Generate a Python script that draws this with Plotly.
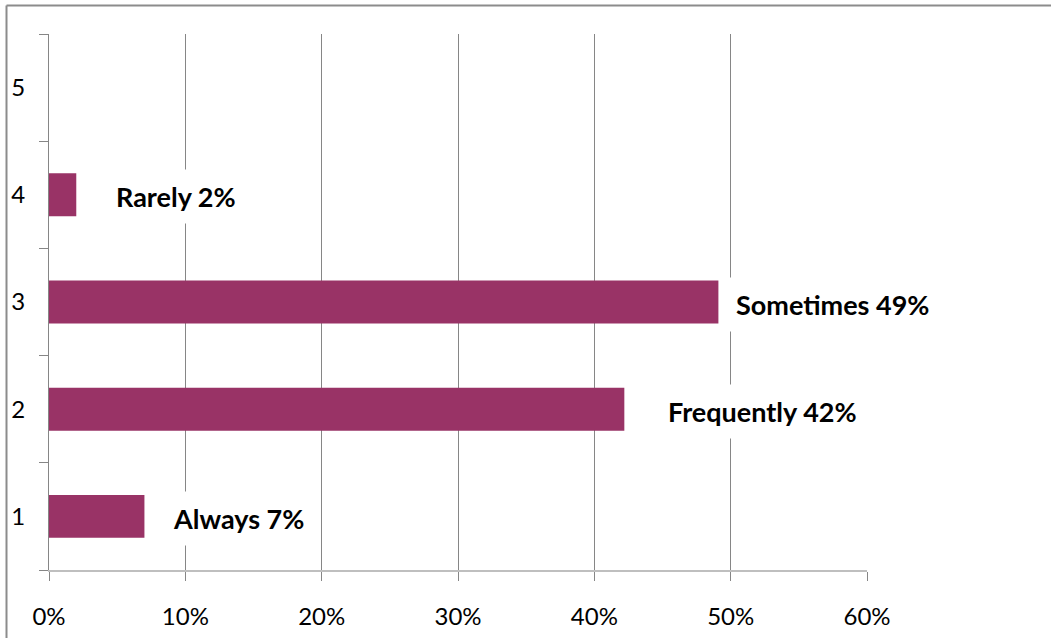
import plotly.graph_objects as go

# ---- data ----
categories = ["1", "2", "3", "4", "5"]
values = [7.0, 42.2, 49.1, 2.0, 0.0]
label_names = ["Always", "Frequently", "Sometimes", "Rarely", ""]
x_ticks = [0, 10, 20, 30, 40, 50, 60]
x_tick_text = ["0%", "10%", "20%", "30%", "40%", "50%", "60%"]

# layout-only positions for the manually placed data labels (in % units)
label_x = [13.9, 52.3, 57.5, 9.3, None]

W, H = 1051, 638
L, R, T, B = 49, 867, 34, 570

BAR = "#993366"
GRID = "#868686"
AXIS_X = "#bfbfbf"
FONT = "Lato, 'Open Sans', sans-serif"

fig = go.Figure()
fig.add_trace(go.Bar(
    y=categories, x=values, orientation="h",
    marker=dict(color=BAR, line=dict(width=0)),
    width=0.4, hoverinfo="skip", showlegend=False,
))

annotations = []
for i, (v, name, lx) in enumerate(zip(values, label_names, label_x)):
    if not name:
        continue
    annotations.append(dict(
        x=lx, y=i, xref="x", yref="y", yshift=-2,
        text=f"{name} {round(v):d}%", showarrow=False,
        xanchor="center", yanchor="middle",
        font=dict(family=FONT, size=27, color="#000000", weight="bold"),
        bgcolor="#ffffff", borderpad=10,
    ))

pw = R - L
ph = B - T
def px(xpix):
    return (xpix - L) / pw
def py(ypix):
    return (B - ypix) / ph

shapes = [
    # outer chart border (top and left visible)
    dict(type="line", xref="paper", yref="paper",
         x0=px(6.5), x1=px(W + 5), y0=py(5.5), y1=py(5.5),
         line=dict(color="#8c8c8c", width=2)),
    dict(type="line", xref="paper", yref="paper",
         x0=px(6.5), x1=px(6.5), y0=py(5.5), y1=py(H + 5),
         line=dict(color="#8c8c8c", width=2)),
]

fig.update_layout(
    width=W, height=H,
    margin=dict(l=L, r=W - R, t=T, b=H - B, pad=0, autoexpand=False),
    paper_bgcolor="#ffffff", plot_bgcolor="#ffffff",
    font=dict(family=FONT, size=24, color="#000000"),
    bargap=0.6,
    annotations=annotations,
    shapes=shapes,
    xaxis=dict(
        range=[0, 60], tickvals=x_ticks, ticktext=x_tick_text,
        ticks="outside", ticklen=9, tickcolor=GRID, tickwidth=1,
        showline=True, linecolor=AXIS_X, linewidth=2,
        showgrid=True, gridcolor=GRID, gridwidth=1,
        zeroline=False, ticklabelstandoff=15, automargin=False,
        tickfont=dict(family=FONT, size=24, color="#000000"),
        fixedrange=True,
    ),
    yaxis=dict(
        type="category", categoryorder="array", categoryarray=categories,
        range=[-0.5, 4.5], tickson="boundaries",
        ticks="outside", ticklen=9, tickcolor=GRID, tickwidth=1,
        showline=True, linecolor=GRID, linewidth=1,
        showgrid=False, zeroline=False, ticklabelstandoff=18, automargin=False,
        tickfont=dict(family=FONT, size=24, color="#000000"),
        fixedrange=True,
    ),
)

fig.write_html("out.html", config=dict(displayModeBar=False))
